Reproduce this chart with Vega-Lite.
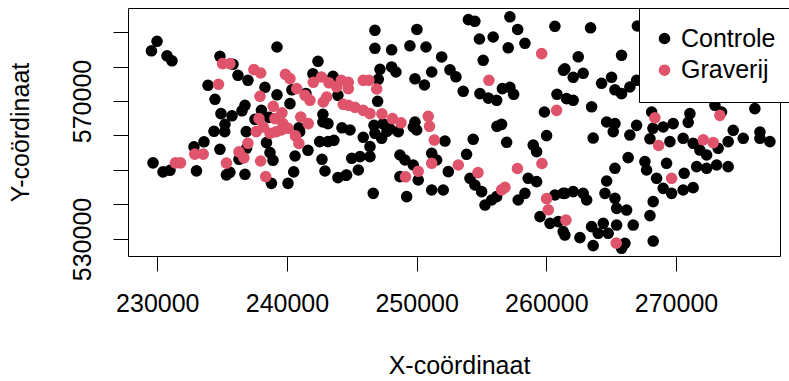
{
"$schema": "https://vega.github.io/schema/vega-lite/v6.json",
"width": 652, "height": 248,
"autosize": {"type": "none"},
"padding": {"left": 128, "top": 8, "right": 9, "bottom": 125},
"background": "white",
"config": {"view": {"stroke": "black", "strokeWidth": 1}, "font": "Liberation Sans"},
"data": {"values": [
{"X":229980,"Y":587310,"g":"Controle"},{"X":229550,"Y":584550,"g":"Controle"},{"X":230750,"Y":583100,"g":"Controle"},{"X":231130,"Y":581650,"g":"Controle"},{"X":239230,"Y":585650,"g":"Controle"},{"X":234830,"Y":582960,"g":"Controle"},{"X":242390,"Y":581510,"g":"Controle"},{"X":235840,"Y":580640,"g":"Controle"},{"X":236220,"Y":577450,"g":"Controle"},{"X":236990,"Y":576000,"g":"Controle"},
{"X":233910,"Y":574550,"g":"Controle"},{"X":234450,"Y":570490,"g":"Controle"},{"X":238300,"Y":573970,"g":"Controle"},{"X":239230,"Y":571800,"g":"Controle"},{"X":240380,"Y":573250,"g":"Controle"},{"X":241460,"Y":572140,"g":"Controle"},{"X":242000,"Y":577880,"g":"Controle"},{"X":243550,"Y":577160,"g":"Controle"},{"X":243930,"Y":571650,"g":"Controle"},{"X":240230,"Y":569250,"g":"Controle"},
{"X":236760,"Y":568750,"g":"Controle"},{"X":236530,"Y":567160,"g":"Controle"},{"X":234910,"Y":566350,"g":"Controle"},{"X":235760,"Y":565710,"g":"Controle"},{"X":238030,"Y":567300,"g":"Controle"},{"X":238610,"Y":565270,"g":"Controle"},{"X":237530,"Y":564690,"g":"Controle"},{"X":242770,"Y":566140,"g":"Controle"},{"X":242770,"Y":563910,"g":"Controle"},{"X":240920,"Y":562230,"g":"Controle"},
{"X":235220,"Y":563240,"g":"Controle"},{"X":234370,"Y":561220,"g":"Controle"},{"X":235200,"Y":561130,"g":"Controle"},{"X":244240,"Y":562230,"g":"Controle"},{"X":243160,"Y":563450,"g":"Controle"},{"X":236860,"Y":561130,"g":"Controle"},{"X":240980,"Y":561130,"g":"Controle"},{"X":242520,"Y":558230,"g":"Controle"},{"X":243160,"Y":558230,"g":"Controle"},{"X":243620,"Y":558610,"g":"Controle"},
{"X":229670,"Y":552080,"g":"Controle"},{"X":230440,"Y":549470,"g":"Controle"},{"X":230980,"Y":549910,"g":"Controle"},{"X":233020,"Y":549760,"g":"Controle"},{"X":232830,"Y":556720,"g":"Controle"},{"X":233600,"Y":558170,"g":"Controle"},{"X":234830,"Y":556000,"g":"Controle"},{"X":235330,"Y":548600,"g":"Controle"},{"X":235600,"Y":549330,"g":"Controle"},{"X":236760,"Y":548750,"g":"Controle"},
{"X":236300,"Y":553100,"g":"Controle"},{"X":236880,"Y":556290,"g":"Controle"},{"X":238420,"Y":557940,"g":"Controle"},{"X":238690,"Y":555040,"g":"Controle"},{"X":238920,"Y":552810,"g":"Controle"},{"X":238800,"Y":546140,"g":"Controle"},{"X":240080,"Y":546140,"g":"Controle"},{"X":240520,"Y":549470,"g":"Controle"},{"X":240620,"Y":554060,"g":"Controle"},{"X":241620,"Y":555710,"g":"Controle"},
{"X":242700,"Y":553100,"g":"Controle"},{"X":242930,"Y":549710,"g":"Controle"},{"X":243930,"Y":547790,"g":"Controle"},{"X":244550,"Y":548460,"g":"Controle"},{"X":245880,"Y":559480,"g":"Controle"},{"X":244860,"Y":561590,"g":"Controle"},{"X":246400,"Y":556780,"g":"Controle"},{"X":244990,"Y":553390,"g":"Controle"},{"X":245630,"Y":553880,"g":"Controle"},{"X":246400,"Y":553880,"g":"Controle"},
{"X":244600,"Y":548550,"g":"Controle"},{"X":245500,"Y":550000,"g":"Controle"},{"X":246780,"Y":560640,"g":"Controle"},{"X":247710,"Y":561220,"g":"Controle"},{"X":248580,"Y":561130,"g":"Controle"},{"X":247300,"Y":559190,"g":"Controle"},{"X":250000,"Y":561590,"g":"Controle"},{"X":252180,"Y":558400,"g":"Controle"},{"X":254360,"Y":558900,"g":"Controle"},{"X":256940,"Y":558030,"g":"Controle"},
{"X":258990,"Y":557240,"g":"Controle"},{"X":259250,"Y":555330,"g":"Controle"},{"X":260020,"Y":559970,"g":"Controle"},{"X":248710,"Y":554350,"g":"Controle"},{"X":249100,"Y":552900,"g":"Controle"},{"X":249740,"Y":551450,"g":"Controle"},{"X":248710,"Y":548080,"g":"Controle"},{"X":250120,"Y":547100,"g":"Controle"},{"X":246650,"Y":543240,"g":"Controle"},{"X":249230,"Y":542290,"g":"Controle"},
{"X":251160,"Y":544200,"g":"Controle"},{"X":252050,"Y":544200,"g":"Controle"},{"X":251160,"Y":554840,"g":"Controle"},{"X":251540,"Y":552900,"g":"Controle"},{"X":252440,"Y":549530,"g":"Controle"},{"X":253850,"Y":554550,"g":"Controle"},{"X":254110,"Y":547590,"g":"Controle"},{"X":254490,"Y":545650,"g":"Controle"},{"X":255010,"Y":543730,"g":"Controle"},{"X":255270,"Y":539850,"g":"Controle"},
{"X":255780,"Y":541300,"g":"Controle"},{"X":256170,"Y":542290,"g":"Controle"},{"X":257830,"Y":541300,"g":"Controle"},{"X":258350,"Y":543240,"g":"Controle"},{"X":258600,"Y":547590,"g":"Controle"},{"X":259250,"Y":546630,"g":"Controle"},{"X":259510,"Y":536490,"g":"Controle"},{"X":260280,"Y":534540,"g":"Controle"},{"X":260920,"Y":535040,"g":"Controle"},{"X":261300,"Y":532140,"g":"Controle"},
{"X":260660,"Y":542750,"g":"Controle"},{"X":261430,"Y":543240,"g":"Controle"},{"X":246780,"Y":590500,"g":"Controle"},{"X":246780,"Y":585280,"g":"Controle"},{"X":248070,"Y":584840,"g":"Controle"},{"X":250020,"Y":590730,"g":"Controle"},{"X":249480,"Y":586000,"g":"Controle"},{"X":250720,"Y":585650,"g":"Controle"},{"X":251930,"Y":582760,"g":"Controle"},{"X":253990,"Y":593600,"g":"Controle"},
{"X":254490,"Y":593100,"g":"Controle"},{"X":257190,"Y":594410,"g":"Controle"},{"X":257790,"Y":590730,"g":"Controle"},{"X":254840,"Y":587970,"g":"Controle"},{"X":255900,"Y":588550,"g":"Controle"},{"X":257060,"Y":585420,"g":"Controle"},{"X":258350,"Y":586730,"g":"Controle"},{"X":260660,"Y":591660,"g":"Controle"},{"X":255130,"Y":581800,"g":"Controle"},{"X":247170,"Y":579190,"g":"Controle"},
{"X":248070,"Y":579860,"g":"Controle"},{"X":248400,"Y":578410,"g":"Controle"},{"X":247040,"Y":576290,"g":"Controle"},{"X":249870,"Y":576440,"g":"Controle"},{"X":250600,"Y":574640,"g":"Controle"},{"X":251160,"Y":578410,"g":"Controle"},{"X":252570,"Y":579040,"g":"Controle"},{"X":253030,"Y":577020,"g":"Controle"},{"X":253590,"Y":572810,"g":"Controle"},{"X":254880,"Y":572140,"g":"Controle"},
{"X":255530,"Y":570840,"g":"Controle"},{"X":256170,"Y":570200,"g":"Controle"},{"X":256610,"Y":573590,"g":"Controle"},{"X":257190,"Y":573970,"g":"Controle"},{"X":257480,"Y":571940,"g":"Controle"},{"X":261320,"Y":578900,"g":"Controle"},{"X":260820,"Y":571940,"g":"Controle"},{"X":259850,"Y":566810,"g":"Controle"},{"X":246990,"Y":569910,"g":"Controle"},{"X":256550,"Y":563240,"g":"Controle"},
{"X":256190,"Y":562670,"g":"Controle"},{"X":246710,"Y":562950,"g":"Controle"},{"X":247400,"Y":563390,"g":"Controle"},{"X":247940,"Y":561940,"g":"Controle"},{"X":249870,"Y":563910,"g":"Controle"},{"X":249740,"Y":562460,"g":"Controle"},{"X":263410,"Y":591220,"g":"Controle"},{"X":267020,"Y":591740,"g":"Controle"},{"X":262460,"Y":582810,"g":"Controle"},{"X":265800,"Y":583250,"g":"Controle"},
{"X":261430,"Y":579330,"g":"Controle"},{"X":262070,"Y":576870,"g":"Controle"},{"X":262840,"Y":578030,"g":"Controle"},{"X":264260,"Y":575130,"g":"Controle"},{"X":265030,"Y":576870,"g":"Controle"},{"X":265290,"Y":573250,"g":"Controle"},{"X":265800,"Y":572140,"g":"Controle"},{"X":266440,"Y":574060,"g":"Controle"},{"X":266960,"Y":576000,"g":"Controle"},{"X":261560,"Y":570700,"g":"Controle"},
{"X":262070,"Y":570200,"g":"Controle"},{"X":263490,"Y":568320,"g":"Controle"},{"X":268120,"Y":566810,"g":"Controle"},{"X":271070,"Y":566350,"g":"Controle"},{"X":273000,"Y":568750,"g":"Controle"},{"X":273510,"Y":566810,"g":"Controle"},{"X":276080,"Y":567800,"g":"Controle"},{"X":264650,"Y":563910,"g":"Controle"},{"X":265290,"Y":563450,"g":"Controle"},{"X":266960,"Y":562950,"g":"Controle"},
{"X":269010,"Y":562460,"g":"Controle"},{"X":269780,"Y":563450,"g":"Controle"},{"X":270940,"Y":563820,"g":"Controle"},{"X":274410,"Y":561510,"g":"Controle"},{"X":276470,"Y":561010,"g":"Controle"},{"X":268220,"Y":562090,"g":"Controle"},{"X":263610,"Y":559270,"g":"Controle"},{"X":265160,"Y":561130,"g":"Controle"},{"X":266440,"Y":560140,"g":"Controle"},{"X":267990,"Y":559040,"g":"Controle"},
{"X":269530,"Y":558230,"g":"Controle"},{"X":270550,"Y":559190,"g":"Controle"},{"X":271320,"Y":557740,"g":"Controle"},{"X":274020,"Y":558230,"g":"Controle"},{"X":275180,"Y":559190,"g":"Controle"},{"X":276470,"Y":559190,"g":"Controle"},{"X":277240,"Y":558230,"g":"Controle"},{"X":266310,"Y":553590,"g":"Controle"},{"X":265290,"Y":550490,"g":"Controle"},{"X":264650,"Y":546810,"g":"Controle"},
{"X":267600,"Y":552430,"g":"Controle"},{"X":269270,"Y":551940,"g":"Controle"},{"X":267730,"Y":550000,"g":"Controle"},{"X":268500,"Y":547590,"g":"Controle"},{"X":269010,"Y":544690,"g":"Controle"},{"X":269660,"Y":543240,"g":"Controle"},{"X":270550,"Y":544200,"g":"Controle"},{"X":271320,"Y":544890,"g":"Controle"},{"X":270630,"Y":549040,"g":"Controle"},{"X":271590,"Y":550980,"g":"Controle"},
{"X":272360,"Y":550490,"g":"Controle"},{"X":273130,"Y":551450,"g":"Controle"},{"X":274020,"Y":550980,"g":"Controle"},{"X":272360,"Y":554350,"g":"Controle"},{"X":271840,"Y":555790,"g":"Controle"},{"X":273250,"Y":556290,"g":"Controle"},{"X":261300,"Y":543240,"g":"Controle"},{"X":262070,"Y":543730,"g":"Controle"},{"X":262840,"Y":543240,"g":"Controle"},{"X":263110,"Y":541300,"g":"Controle"},
{"X":264520,"Y":543240,"g":"Controle"},{"X":265290,"Y":541790,"g":"Controle"},{"X":265420,"Y":538890,"g":"Controle"},{"X":266190,"Y":538400,"g":"Controle"},{"X":268240,"Y":540840,"g":"Controle"},{"X":267990,"Y":536780,"g":"Controle"},{"X":266700,"Y":534050,"g":"Controle"},{"X":268240,"Y":529410,"g":"Controle"},{"X":265420,"Y":534050,"g":"Controle"},{"X":264390,"Y":534540,"g":"Controle"},
{"X":263490,"Y":533590,"g":"Controle"},{"X":264000,"Y":531650,"g":"Controle"},{"X":264770,"Y":531650,"g":"Controle"},{"X":262590,"Y":530400,"g":"Controle"},{"X":263610,"Y":528080,"g":"Controle"},{"X":266060,"Y":528750,"g":"Controle"},{"X":265800,"Y":527300,"g":"Controle"},{"X":261430,"Y":531150,"g":"Controle"},
{"X":235030,"Y":580840,"g":"Graverij"},{"X":235600,"Y":580840,"g":"Graverij"},{"X":237450,"Y":579100,"g":"Graverij"},{"X":237970,"Y":578120,"g":"Graverij"},{"X":234720,"Y":574840,"g":"Graverij"},{"X":239880,"Y":577740,"g":"Graverij"},{"X":240230,"Y":576490,"g":"Graverij"},{"X":240750,"Y":573590,"g":"Graverij"},{"X":242030,"Y":575420,"g":"Graverij"},{"X":242660,"Y":576960,"g":"Graverij"},
{"X":243240,"Y":575280,"g":"Graverij"},{"X":243830,"Y":574060,"g":"Graverij"},{"X":244190,"Y":576000,"g":"Graverij"},{"X":244730,"Y":575420,"g":"Graverij"},{"X":244730,"Y":573590,"g":"Graverij"},{"X":245880,"Y":576000,"g":"Graverij"},{"X":246320,"Y":576000,"g":"Graverij"},{"X":246920,"Y":573480,"g":"Graverij"},{"X":243060,"Y":571160,"g":"Graverij"},{"X":242800,"Y":569710,"g":"Graverij"},
{"X":241770,"Y":570200,"g":"Graverij"},{"X":241390,"Y":571650,"g":"Graverij"},{"X":237920,"Y":571360,"g":"Graverij"},{"X":238940,"Y":568460,"g":"Graverij"},{"X":239610,"Y":566580,"g":"Graverij"},{"X":237840,"Y":564900,"g":"Graverij"},{"X":239070,"Y":564900,"g":"Graverij"},{"X":239690,"Y":563450,"g":"Graverij"},{"X":240080,"Y":562090,"g":"Graverij"},{"X":241060,"Y":565360,"g":"Graverij"},
{"X":241640,"Y":563450,"g":"Graverij"},{"X":244340,"Y":569040,"g":"Graverij"},{"X":244730,"Y":568750,"g":"Graverij"},{"X":245240,"Y":568170,"g":"Graverij"},{"X":245880,"Y":567300,"g":"Graverij"},{"X":246400,"Y":566350,"g":"Graverij"},{"X":247320,"Y":566290,"g":"Graverij"},{"X":248130,"Y":564900,"g":"Graverij"},{"X":248790,"Y":563680,"g":"Graverij"},{"X":250890,"Y":565560,"g":"Graverij"},
{"X":250990,"Y":562670,"g":"Graverij"},{"X":251360,"Y":558690,"g":"Graverij"},{"X":238690,"Y":560640,"g":"Graverij"},{"X":238170,"Y":562460,"g":"Graverij"},{"X":239150,"Y":561070,"g":"Graverij"},{"X":237630,"Y":561130,"g":"Graverij"},{"X":239560,"Y":561590,"g":"Graverij"},{"X":231400,"Y":552080,"g":"Graverij"},{"X":231790,"Y":552080,"g":"Graverij"},{"X":232890,"Y":554610,"g":"Graverij"},
{"X":233540,"Y":554610,"g":"Graverij"},{"X":235330,"Y":552000,"g":"Graverij"},{"X":236300,"Y":555270,"g":"Graverij"},{"X":236680,"Y":553530,"g":"Graverij"},{"X":236990,"Y":557740,"g":"Graverij"},{"X":237970,"Y":552610,"g":"Graverij"},{"X":238360,"Y":548110,"g":"Graverij"},{"X":240650,"Y":559910,"g":"Graverij"},{"X":240920,"Y":557680,"g":"Graverij"},{"X":249140,"Y":548030,"g":"Graverij"},
{"X":250120,"Y":549620,"g":"Graverij"},{"X":251160,"Y":551940,"g":"Graverij"},{"X":253210,"Y":551450,"g":"Graverij"},{"X":254730,"Y":549240,"g":"Graverij"},{"X":256550,"Y":544260,"g":"Graverij"},{"X":256810,"Y":544980,"g":"Graverij"},{"X":257770,"Y":550430,"g":"Graverij"},{"X":259660,"Y":551880,"g":"Graverij"},{"X":260020,"Y":541730,"g":"Graverij"},{"X":260150,"Y":538460,"g":"Graverij"},
{"X":261510,"Y":535470,"g":"Graverij"},{"X":265390,"Y":528810,"g":"Graverij"},{"X":259640,"Y":583740,"g":"Graverij"},{"X":255570,"Y":576000,"g":"Graverij"},{"X":260790,"Y":567300,"g":"Graverij"},{"X":268370,"Y":565130,"g":"Graverij"},{"X":273380,"Y":565850,"g":"Graverij"},{"X":268660,"Y":557100,"g":"Graverij"},{"X":272100,"Y":558750,"g":"Graverij"},{"X":272870,"Y":557940,"g":"Graverij"},
{"X":269660,"Y":547590,"g":"Graverij"}
]},
"mark": {"type": "point", "filled": true, "size": 135, "opacity": 1, "strokeWidth": 0},
"encoding": {
"x": {"field": "X", "type": "quantitative",
 "scale": {"domain": [227741, 278018], "nice": false, "zero": false},
 "axis": {"title": "X-coördinaat", "values": [230000, 240000, 250000, 260000, 270000], "format": "d",
  "grid": false, "domain": false, "tickSize": 15, "tickColor": "black", "tickWidth": 1,
  "labelFontSize": 25, "labelColor": "black", "labelFont": "Liberation Sans", "labelBaseline": "alphabetic", "labelPadding": 40.5,
  "labelOverlap": false, "labelFlush": false,
  "titleFontSize": 25, "titleFontWeight": "normal", "titleColor": "black", "titleFont": "Liberation Sans",
  "titleX": 331, "titleY": 117, "titleBaseline": "alphabetic", "titleAlign": "center"}},
"y": {"field": "Y", "type": "quantitative",
 "scale": {"domain": [525072, 596957], "nice": false, "zero": false},
 "axis": {"title": "Y-coördinaat", "values": [530000, 540000, 550000, 560000, 570000, 580000, 590000],
  "labelExpr": "datum.value == 530000 || datum.value == 570000 ? format(datum.value, 'd') : ''",
  "grid": false, "domain": false, "tickSize": 15, "tickColor": "black", "tickWidth": 1,
  "labelFontSize": 25, "labelColor": "black", "labelFont": "Liberation Sans", "labelAngle": 270, "labelAlign": "center", "labelBaseline": "alphabetic", "labelPadding": 23,
  "labelOverlap": false, "labelFlush": false,
  "titleFontSize": 25, "titleFontWeight": "normal", "titleColor": "black", "titleFont": "Liberation Sans",
  "titleAngle": 270, "titleX": -100, "titleY": 124, "titleBaseline": "alphabetic", "titleAlign": "center"}},
"color": {"field": "g", "type": "nominal",
 "scale": {"domain": ["Controle", "Graverij"], "range": ["#000000", "#DF536B"]},
 "legend": {"title": null, "orient": "none", "legendX": 511, "legendY": 0, "padding": 18,
  "strokeColor": "black", "fillColor": "white", "labelFontSize": 25, "labelFont": "Liberation Sans", "labelColor": "black",
  "symbolType": "circle", "symbolSize": 135, "symbolStrokeWidth": 0, "symbolOpacity": 1, "symbolOffset": -5, "labelOffset": 4, "rowPadding": 5.7}}
}
}
